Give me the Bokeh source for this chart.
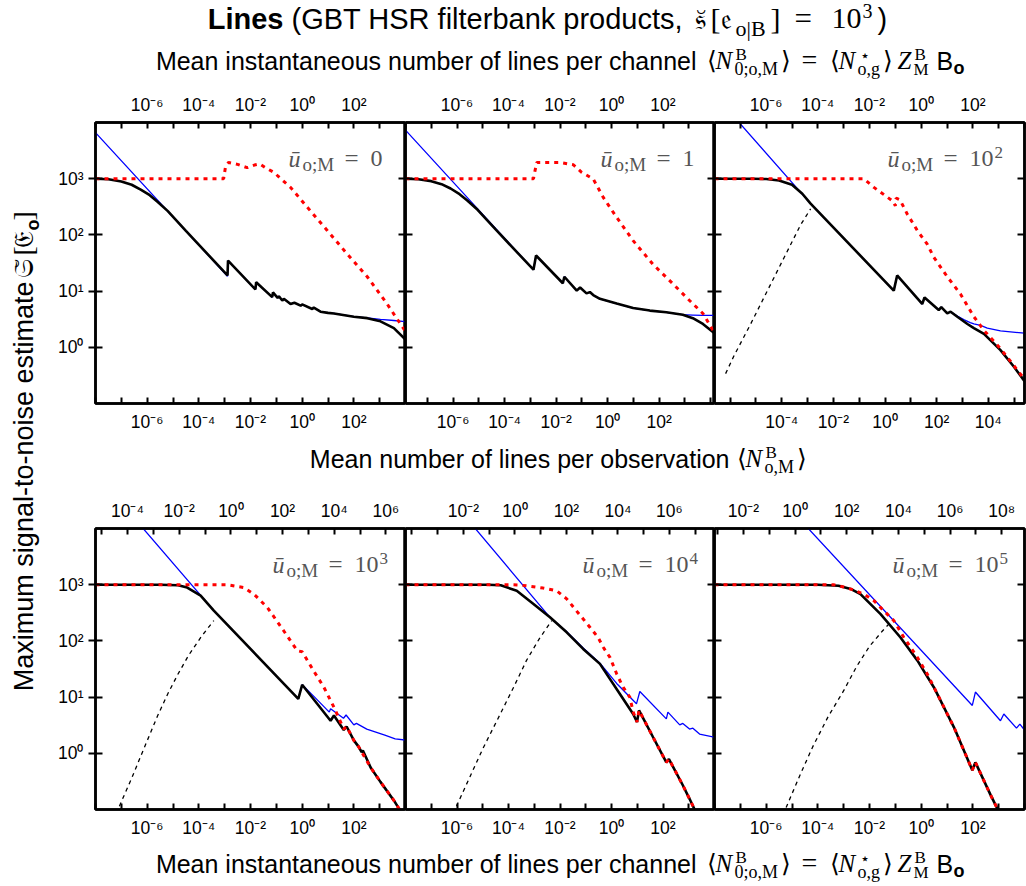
import numpy as np
from bokeh.plotting import figure
from bokeh.models import Range1d, LogAxis, LogScale, FixedTicker, CustomJSTickFormatter, Label
from bokeh.layouts import column, row
from bokeh.embed import file_html
from bokeh.resources import INLINE

# ------------------------------------------------------------------ data
# x values are log10 of the mean instantaneous number of lines per channel <N0>
# y values are the maximum signal-to-noise estimate

# panel u = 0
u0_blue_lgN = [-8.0, -2.89, -2.87, -1.81, -1.78, -1.16, -1.13, -0.95, -0.9, -0.77, -0.71, -0.45, -0.3, -0.06, 0.0, 0.39, 0.45, 0.71, 1.0, 1.23, 2.0, 2.52, 3.03, 3.55, 4.0]
u0_blue_snr = [6600, 18.4, 35, 10.7, 14.4, 7.8, 9.5, 7.6, 8.1, 6.8, 7.3, 5.9, 6.2, 5.5, 5.8, 4.8, 5.1, 4.3, 4.1, 4.0, 3.5, 3.35, 3.15, 3.0, 2.85]
u0_black_lgN = [-8.0, -7.5, -7.0, -6.6, -6.25, -5.9, -5.6, -5.2, -4.5, -2.89, -2.87, -1.81, -1.78, -1.16, -1.13, -0.95, -0.9, -0.77, -0.71, -0.45, -0.3, -0.06, 0.0, 0.39, 0.45, 0.71, 1.0, 1.23, 2.0, 2.52, 3.03, 3.55, 3.97, 4.0]
u0_black_snr = [1000, 975, 890, 780, 640, 510, 390, 265, 118, 19, 35, 10.7, 14.4, 7.8, 9.5, 7.6, 8.1, 6.8, 7.3, 5.9, 6.2, 5.5, 5.8, 4.8, 5.1, 4.3, 4.1, 4.0, 3.5, 3.3, 2.9, 2.2, 1.42, 1.4]
u0_red_lgN = [-8.0, -3.04, -2.97, -2.85, -2.5, -2.13, -1.85, -1.65, -1.4, -1.1, -0.45, 0.2, 0.97, 1.74, 2.52, 3.29, 3.97, 4.0]
u0_red_snr = [1000, 1000, 1600, 1950, 1800, 1570, 1750, 1830, 1550, 1300, 700, 310, 120, 46, 18, 5.9, 2.0, 1.9]

# panel u = 1
u1_blue_lgN = [-8.0, -3.03, -2.93, -1.89, -1.83, -1.35, -1.22, -0.97, -0.84, -0.71, -0.45, 0.2, 0.84, 1.49, 2.13, 2.77, 3.16, 3.55, 4.0]
u1_blue_snr = [7300, 24, 43, 13.8, 18, 10.2, 11.6, 9.1, 9.6, 8.5, 7.3, 6.0, 5.0, 4.5, 4.2, 3.8, 3.75, 3.7, 3.7]
u1_black_lgN = [-8.0, -7.5, -7.0, -6.6, -6.25, -5.9, -5.6, -5.2, -4.5, -3.03, -2.93, -1.89, -1.83, -1.35, -1.22, -0.97, -0.84, -0.71, -0.45, 0.2, 0.84, 1.49, 2.13, 2.77, 3.16, 3.55, 3.94, 4.0]
u1_black_snr = [1000, 980, 905, 800, 670, 530, 410, 280, 125, 24, 43, 13.8, 18, 10.2, 11.6, 9.1, 9.6, 8.5, 7.3, 6.0, 5.0, 4.5, 4.2, 3.8, 3.3, 2.6, 1.87, 1.8]
u1_red_lgN = [-8.0, -3.03, -2.97, -2.9, -2.0, -1.48, -1.16, -0.71, -0.32, 0.2, 0.84, 1.61, 2.39, 3.03, 3.55, 3.94, 4.0]
u1_red_snr = [1000, 1000, 1390, 1950, 1950, 1770, 1300, 990, 465, 205, 79, 30, 13.4, 6.8, 4.0, 2.0, 1.85]

# panel u = 1e2
u2_blue_lgN = [-7.2, -4.28, -1.06, -0.93, 0.04, 0.13, 0.68, 0.78, 1.01, 1.14, 1.40, 1.65, 1.9, 2.04, 2.3, 2.56, 3.07, 4.0]
u2_blue_snr = [12000, 360, 10.2, 19, 5.9, 7.7, 4.6, 5.2, 4.0, 4.3, 3.6, 3.1, 2.75, 2.6, 2.45, 2.2, 1.96, 1.78]
u2_black_lgN = [-8.0, -6.5, -6.0, -5.5, -5.0, -4.6, -4.28, -1.06, -0.93, 0.04, 0.13, 0.68, 0.78, 1.01, 1.14, 1.40, 1.79, 2.04, 2.43, 3.07, 3.59, 4.0]
u2_black_snr = [1000, 1000, 985, 930, 780, 540, 360, 10.2, 19, 5.9, 7.7, 4.6, 5.2, 4.0, 4.3, 3.5, 2.6, 2.2, 1.73, 0.89, 0.45, 0.25]
u2_red_lgN = [-8.0, -2.22, -1.83, -1.31, -1.1, -1.0, -0.97, -0.82, -0.54, -0.15, 0.23, 0.49, 1.01, 1.52, 2.04, 2.43, 3.07, 4.0]
u2_red_snr = [1000, 1000, 700, 470, 400, 330, 450, 420, 236, 120, 69, 40, 18, 8.9, 3.5, 2.0, 0.95, 0.27]
u2_dash_lgN = [-7.57, -7.25, -6.6, -5.96, -5.3, -4.67, -4.28]
u2_dash_snr = [0.34, 0.7, 2.6, 10, 40, 150, 290]

# panel u = 1e3
u3_blue_lgN = [-6.4, -3.42, -0.15, 0.0, 0.5, 1.05, 1.1, 1.6, 1.7, 2.0, 2.1, 2.5, 3.2, 3.6, 4.0]
u3_blue_snr = [13500, 345, 9.3, 16.6, 9.8, 5.4, 6.2, 4.2, 4.8, 3.2, 3.4, 2.7, 2.1, 1.8, 1.72]
u3_black_lgN = [-8.0, -5.5, -4.8, -4.45, -3.93, -3.42, -0.15, 0.0, 1.1, 1.23, 1.61, 1.72, 2.0, 2.19, 2.3, 2.35, 2.65, 3.03, 3.55, 3.9]
u3_black_snr = [1000, 1000, 975, 890, 640, 345, 9.3, 16.6, 3.8, 4.7, 2.6, 3.0, 1.7, 1.3, 1.05, 1.12, 0.56, 0.31, 0.145, 0.08]
u3_red_lgN = [-8.0, -2.9, -2.26, -1.87, -1.35, -0.71, -0.19, 0.0, 0.45, 0.84, 1.23, 1.61, 1.72, 2.0, 2.19, 2.65, 3.03, 3.55, 3.9]
u3_red_snr = [1000, 1000, 890, 680, 395, 150, 67, 64, 29, 15, 6.6, 2.7, 3.0, 1.7, 1.3, 0.56, 0.31, 0.145, 0.08]
u3_dash_lgN = [-7.2, -6.6, -6.1, -5.6, -5.2, -4.8, -4.4, -3.9, -3.42]
u3_dash_snr = [0.085, 0.36, 1.3, 4.6, 11.5, 26, 55, 120, 230]

# panel u = 1e4
u4_blue_lgN = [-5.5, -2.39, -1.74, -1.1, -0.45, 0.2, 0.97, 1.1, 2.13, 2.19, 2.65, 2.77, 3.03, 3.16, 3.42, 4.0]
u4_blue_snr = [13000, 263, 145, 75, 40, 17.5, 7.6, 12.6, 4.1, 5.4, 3.2, 3.4, 2.7, 2.8, 2.2, 1.93]
u4_black_lgN = [-8.0, -4.8, -4.3, -3.68, -3.03, -2.39, -1.74, -1.1, -0.45, 0.32, 0.84, 0.99, 1.07, 1.61, 2.13, 2.23, 2.77, 3.03, 3.3]
u4_black_snr = [1000, 1000, 975, 780, 455, 263, 142, 72, 39, 11.5, 5.0, 3.6, 5.8, 1.95, 0.69, 0.79, 0.27, 0.155, 0.085]
u4_red_lgN = [-8.0, -3.9, -3.55, -3.03, -2.65, -2.13, -1.74, -1.48, -1.16, -0.84, -0.52, -0.32, -0.06, 0.2, 0.45, 0.71, 0.84, 0.99, 1.07, 1.61, 2.13, 2.23, 2.77, 3.03, 3.3]
u4_red_snr = [1000, 1000, 985, 920, 870, 780, 560, 400, 265, 175, 115, 77, 51, 26, 15, 10, 5.5, 3.6, 5.8, 1.95, 0.69, 0.79, 0.27, 0.155, 0.085]
u4_dash_lgN = [-6.15, -5.5, -5.0, -4.32, -3.8, -3.3, -2.8, -2.32]
u4_dash_snr = [0.085, 0.38, 1.2, 5.0, 15, 45, 110, 230]

# panel u = 1e5
u5_blue_lgN = [-4.6, 1.98, 2.1, 3.07, 3.2, 3.69, 3.82, 4.0]
u5_blue_snr = [13000, 7.1, 12.3, 3.8, 5.0, 2.8, 3.3, 2.6]
u5_black_lgN = [-8.0, -4.0, -3.2, -2.73, -2.35, -1.57, -0.8, -0.15, 0.49, 1.27, 1.98, 2.1, 2.69, 3.1]
u5_black_snr = [1000, 1000, 955, 840, 680, 300, 115, 45, 15, 2.9, 0.5, 0.69, 0.18, 0.075]
u5_red_lgN = [-8.0, -3.39, -3.0, -2.6, -2.22, -1.83, -1.45, -1.06, -0.67, -0.41, -0.15, 0.23, 0.62, 1.01, 1.27, 1.98, 2.1, 2.69, 3.1]
u5_red_snr = [1000, 1000, 910, 800, 680, 520, 345, 230, 115, 77, 51, 26, 11.5, 5.0, 2.9, 0.5, 0.69, 0.18, 0.075]
u5_dash_lgN = [-5.35, -4.7, -4.2, -3.6, -3.0, -2.5, -2.0, -1.5, -1.19]
u5_dash_snr = [0.08, 0.4, 1.3, 4.5, 13, 35, 80, 150, 214]

# panel annotations and axis offsets
u_value_text = ["0", "1", "10", "10", "10", "10"]
u_value_exp = ["", "", "2", "3", "4", "5"]
obs_shift_dex = [0.0, 0.15, 1.4, 2.76, 3.75, 4.88]   # log10(<N_o,M> / <N_0;o,M>)
n0_range_dex = [-8, 4]
snr_range = [0.1, 1e4]
snr_tick_exps = [0, 1, 2, 3]

PANELS = [
    (u0_blue_lgN, u0_blue_snr, u0_black_lgN, u0_black_snr, u0_red_lgN, u0_red_snr, None, None),
    (u1_blue_lgN, u1_blue_snr, u1_black_lgN, u1_black_snr, u1_red_lgN, u1_red_snr, None, None),
    (u2_blue_lgN, u2_blue_snr, u2_black_lgN, u2_black_snr, u2_red_lgN, u2_red_snr, u2_dash_lgN, u2_dash_snr),
    (u3_blue_lgN, u3_blue_snr, u3_black_lgN, u3_black_snr, u3_red_lgN, u3_red_snr, u3_dash_lgN, u3_dash_snr),
    (u4_blue_lgN, u4_blue_snr, u4_black_lgN, u4_black_snr, u4_red_lgN, u4_red_snr, u4_dash_lgN, u4_dash_snr),
    (u5_blue_lgN, u5_blue_snr, u5_black_lgN, u5_black_snr, u5_red_lgN, u5_red_snr, u5_dash_lgN, u5_dash_snr),
]

# ------------------------------------------------------------------ style
SANS = "Liberation Sans"
SERIF = "Liberation Serif"
GRAY = "#555555"
TICK_FONT = "17.5px"
BASE_FIX = 0.4   # label baseline correction, in em
SUPMAP = str.maketrans("0123456789-", "⁰¹²³⁴⁵⁶⁷⁸⁹⁻")


def pow_label(e):
    return "10" + str(e).translate(SUPMAP)


FMT_CODE = """
const e = Math.round(Math.log10(tick));
const i = exps.indexOf(e);
return i < 0 ? "" : texts[i];
"""


def txt(fig, x, y, s, size, font=SANS, style="normal", align="left", color="black", angle=0.0):
    fig.add_layout(Label(x=x, y=y, text=s, text_font=font, text_font_size=f"{size}px",
                         text_font_style=style, text_align=align, text_color=color,
                         text_baseline="alphabetic", angle=angle))


def style_xaxis(ax, lo, hi, standoff):
    exps = list(range(int(np.ceil(lo - 1e-9)), int(np.floor(hi + 1e-9)) + 1))
    lab = [e for e in exps if e % 2 == 0 and e - lo >= 0.7 and hi - e >= 0.7]
    ax.ticker = FixedTicker(ticks=[10.0 ** e for e in exps], minor_ticks=[])
    ax.formatter = CustomJSTickFormatter(args=dict(exps=lab, texts=[pow_label(e) for e in lab]), code=FMT_CODE)
    ax.major_tick_in = 6
    ax.major_tick_out = 0
    ax.minor_tick_line_color = None
    ax.axis_line_width = 2.5
    ax.axis_line_color = "black"
    ax.major_tick_line_width = 2
    ax.major_tick_line_color = "black"
    ax.major_label_text_font = SANS
    ax.major_label_text_font_size = TICK_FONT
    ax.major_label_text_color = "black"
    ax.major_label_standoff = standoff


def style_yaxis(ax, labels, tick_out):
    ax.ticker = FixedTicker(ticks=[10.0 ** e for e in snr_tick_exps], minor_ticks=[])
    ax.formatter = CustomJSTickFormatter(
        args=dict(exps=snr_tick_exps if labels else [], texts=[pow_label(e) for e in snr_tick_exps] if labels else []),
        code=FMT_CODE)
    ax.major_tick_in = 7
    ax.major_tick_out = tick_out
    ax.minor_tick_line_color = None
    ax.axis_line_width = 2.5
    ax.axis_line_color = "black"
    ax.major_tick_line_width = 2
    ax.major_tick_line_color = "black"
    ax.major_label_text_font = SANS
    ax.major_label_text_color = "black"
    if labels:
        ax.major_label_text_font_size = TICK_FONT
        ax.major_label_standoff = 5
    else:
        ax.major_label_text_font_size = "0px"
        ax.major_label_standoff = 0


def make_panel(i):
    r, c = divmod(i, 3)
    left = 51 if c == 0 else 0
    right = 2 if c == 2 else 0
    fw = 309 if c == 1 else 310
    top = 34 if r == 0 else 43
    bottom = 39 if r == 0 else 37
    lo, hi = n0_range_dex
    p = figure(width=left + fw + right, height=top + 281 + bottom, title=None,
               x_axis_type="log", y_axis_type="log",
               x_range=Range1d(10.0 ** lo, 10.0 ** hi), y_range=Range1d(*snr_range),
               x_axis_location="above" if r == 0 else "below", y_axis_location="left",
               output_backend="svg", toolbar_location=None,
               min_border_left=left, min_border_right=right,
               min_border_top=top, min_border_bottom=bottom)
    p.outline_line_color = "black"
    p.outline_line_width = 2.5
    p.grid.grid_line_color = None
    p.background_fill_color = "white"
    p.border_fill_color = "white"

    main_x = p.xaxis[0]
    style_xaxis(main_x, lo, hi, 8)
    s = obs_shift_dex[i]
    p.extra_x_ranges = {"obs": Range1d(10.0 ** (lo + s), 10.0 ** (hi + s))}
    p.extra_x_scales = {"obs": LogScale()}
    obs_ax = LogAxis(x_range_name="obs")
    style_xaxis(obs_ax, lo + s, hi + s, 8)
    p.add_layout(obs_ax, "below" if r == 0 else "above")

    style_yaxis(p.yaxis[0], c == 0, 7 if c == 0 else 0)
    ry = LogAxis()
    style_yaxis(ry, False, 0)
    p.add_layout(ry, "right")

    bl, bs, kl, ks, rl, rs, dl, ds = PANELS[i]
    p.line([10.0 ** v for v in bl], bs, line_color="#0000ff", line_width=1.3)
    if dl is not None:
        p.line([10.0 ** v for v in dl], ds, line_color="black", line_width=1.3, line_dash="4 4")
    p.line([10.0 ** v for v in kl], ks, line_color="black", line_width=2.6)
    p.line([10.0 ** v for v in rl], rs, line_color="#ff0000", line_width=3, line_dash="4 5")

    # panel annotation  u_{o;M} = value   (offsets in pixels from the frame's top-left corner)
    start = [193, 195, 173, 177, 177, 178][i]

    def put(dx, dy, s, size, style="normal"):
        xv = 10.0 ** (lo + dx * (hi - lo) / fw)
        yv = 10.0 ** (4 - (dy - BASE_FIX * size) * 5.0 / 281)
        txt(p, xv, yv, s, size, SERIF, style, color=GRAY)

    put(start, 46, "ū", 24, "italic")
    put(start + 14, 50, "o;M", 19)
    put(start + 56, 46, "=", 25)
    put(start + 82, 46, u_value_text[i], 24)
    if u_value_exp[i]:
        put(start + 107, 37, u_value_exp[i], 17)
    return p


def text_fig(w, h):
    f = figure(width=w, height=h, title=None, x_range=Range1d(0, w), y_range=Range1d(0, h),
               x_axis_location=None, y_axis_location=None, toolbar_location=None,
               output_backend="svg", min_border=0)
    f.outline_line_color = None
    f.grid.grid_line_color = None
    return f


def htxt(fig, x, y, s, size, font=SANS, style="normal", align="left"):
    # horizontal text: y is the baseline measured from the bottom of the strip
    txt(fig, x, y + BASE_FIX * size, s, size, font, style, align)


def segs(fig, x0, y0, items):
    for dx, dy, s, size, font, style in items:
        htxt(fig, x0 + dx, y0 + dy, s, size, font, style)


panels = [make_panel(i) for i in range(6)]

# header: title + top axis label
head = text_fig(1026, 88)
htxt(head, 283, 58, "Lines", 29, SANS, "bold", align="right")
htxt(head, 291, 58, "(GBT HSR filterbank products,", 29, SANS)
segs(head, 694, 58, [
    (0, 0, "𝔰̆", 29, SERIF, "normal"),
    (16, 0, "[", 30, SERIF, "normal"),
    (26, 0, "𝔢", 29, SERIF, "normal"),
    (41, -7, "o|B", 22, SERIF, "normal"),
    (76, 0, "]", 30, SERIF, "normal"),
    (100, 0, "=", 31, SERIF, "normal"),
    (137, 0, "10", 30, SERIF, "normal"),
    (168, 12, "3", 20, SERIF, "normal"),
    (183, 0, ")", 29, SANS, "normal"),
])

TOP_MATH = [
    (0, 0, "⟨", 25, SERIF, "normal"),
    (9, 0, "N", 25, SERIF, "italic"),
    (29, 9, "B", 17, SERIF, "normal"),
    (28, -6, "0;o,M", 18, SERIF, "normal"),
    (74, 0, "⟩", 25, SERIF, "normal"),
    (95, 0, "=", 28, SERIF, "normal"),
    (123, 0, "⟨", 25, SERIF, "normal"),
    (132, 0, "N", 25, SERIF, "italic"),
    (153, 9, "⋆", 16, SERIF, "normal"),
    (151, -6, "o,g", 18, SERIF, "normal"),
    (176, 0, "⟩", 25, SERIF, "normal"),
    (191, 0, "Z", 25, SERIF, "italic"),
    (208, 9, "B", 17, SERIF, "normal"),
    (207, -6, "M", 17, SERIF, "normal"),
    (230, 0, "B", 25, SANS, "normal"),
    (247, -5, "o", 18, SANS, "bold"),
]
htxt(head, 696, 18, "Mean instantaneous number of lines per channel", 25, align="right")
segs(head, 706, 18, TOP_MATH)

# middle label
mid = text_fig(982, 43)
htxt(mid, 685, 17, "Mean number of lines per observation", 25, align="right")
segs(mid, 692, 17, [
    (0, 0, "⟨", 25, SERIF, "normal"),
    (9, 0, "N", 25, SERIF, "italic"),
    (29, 9, "B", 17, SERIF, "normal"),
    (28, -6, "o,M", 18, SERIF, "normal"),
    (60, 0, "⟩", 25, SERIF, "normal"),
])

# footer label
foot = text_fig(1026, 40)
htxt(foot, 696, 13, "Mean instantaneous number of lines per channel", 25, align="right")
segs(foot, 706, 13, TOP_MATH)

# y label (rotated, reads bottom to top; baseline is the vertical line x = 34)
ylab = text_fig(44, 758)
A = np.pi / 2


def vtxt(x, y, s, size, font=SANS, style="normal", align="left"):
    txt(ylab, x - BASE_FIX * size, y, s, size, font, style, align, angle=A)


vtxt(34, 565, "Maximum signal-to-noise estimate", 27, SANS, align="right")
vtxt(34, 569, "𝔖̆", 27, SERIF)
vtxt(34, 591, "[", 28, SERIF)
vtxt(34, 599, "𝔈", 27, SERIF)
vtxt(40, 616, "o", 18, SANS, "bold")
vtxt(34, 626, "]", 28, SERIF)

grid_block = column(row(panels[0], panels[1], panels[2]), mid, row(panels[3], panels[4], panels[5]))
layout = column(head, row(ylab, grid_block), foot)

open("out.html", "w").write(file_html(layout, INLINE, title="Lines"))
